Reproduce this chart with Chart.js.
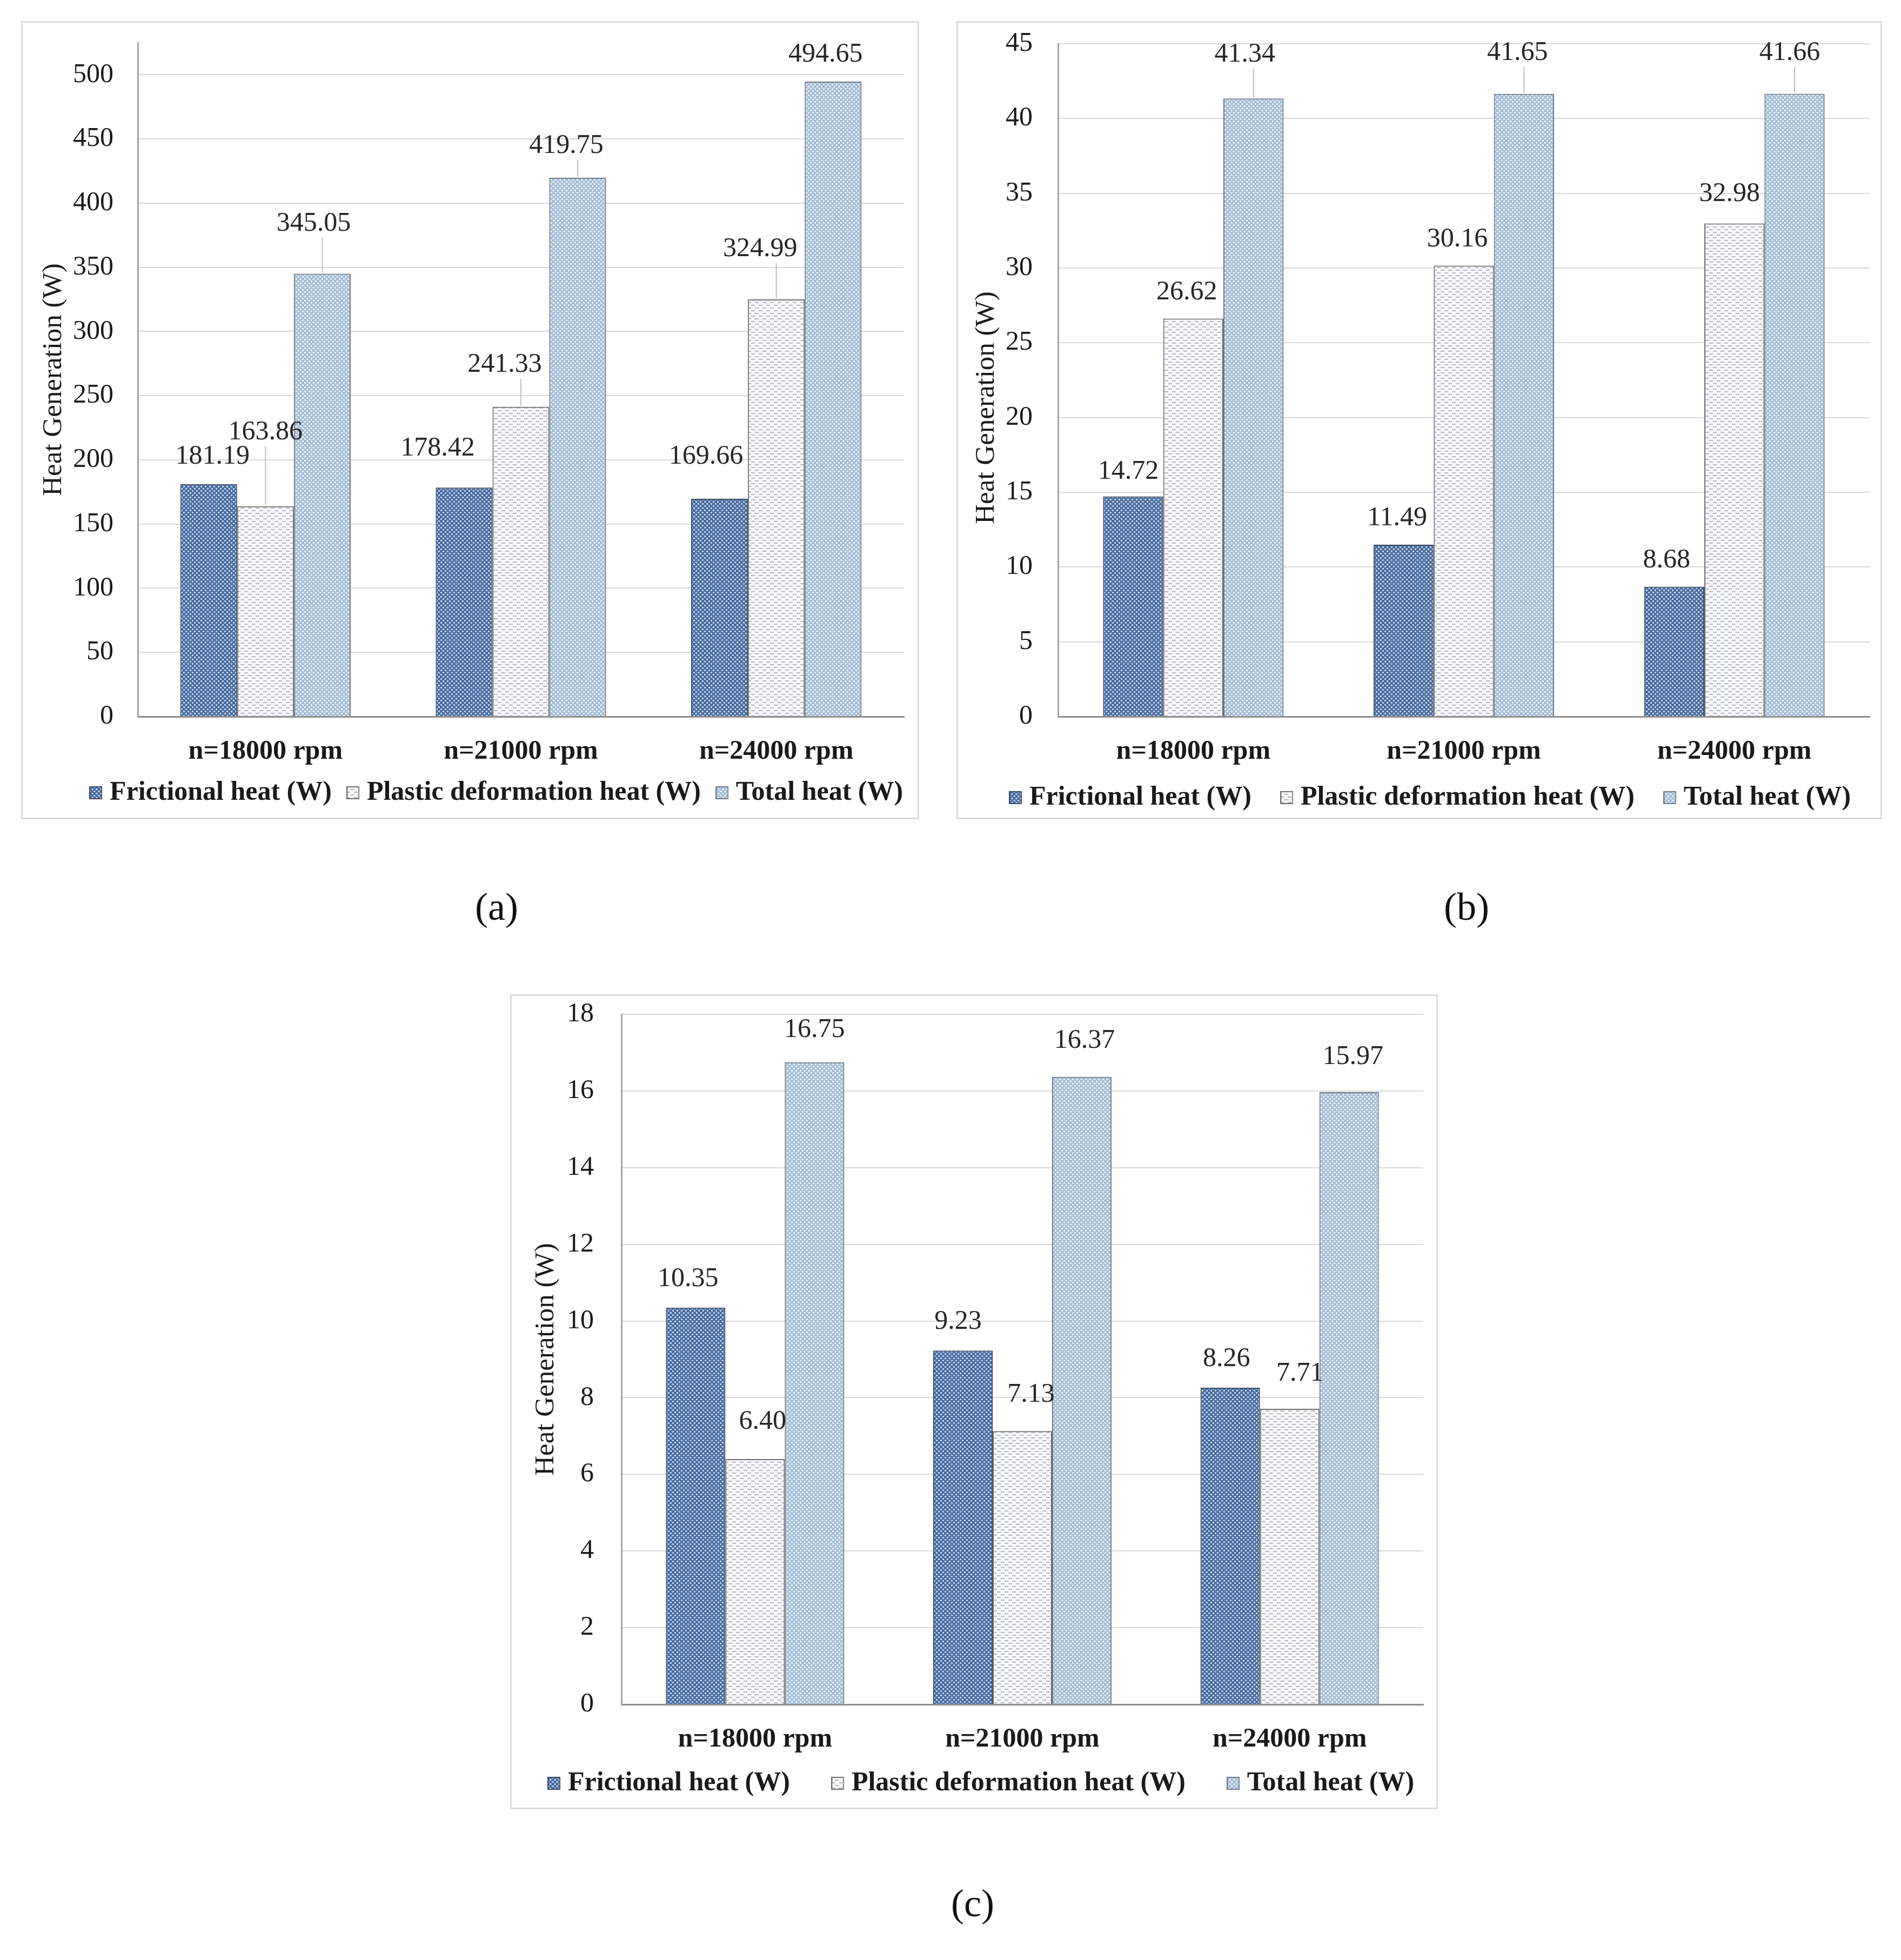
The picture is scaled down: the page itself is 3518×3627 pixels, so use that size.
<!DOCTYPE html>
<html>
<head>
<meta charset="utf-8">
<title>Heat generation</title>
<script src="https://cdn.jsdelivr.net/npm/chart.js@4.4.1/dist/chart.umd.min.js"></script>
<style>
  body { margin: 0; background: #fff; width: 3518px; height: 3627px; position: relative; overflow: hidden; font-family: "Liberation Serif", "Times New Roman", serif; }
  .panel { position: absolute; border: 3px solid #dcdcdc; box-sizing: border-box; }
  canvas { position: absolute; }
  .cap { position: absolute; font-size: 72px; color: #111; transform: translate(-50%, -50%); }
</style>
</head>
<body>
<div class="panel" style="left:39px;top:39px;width:1662px;height:1477px"></div>
<div class="panel" style="left:1770px;top:39px;width:1713px;height:1477px"></div>
<div class="panel" style="left:944px;top:1840px;width:1717px;height:1508px"></div>

<canvas id="chartA"></canvas>
<canvas id="chartB"></canvas>
<canvas id="chartC"></canvas>

<div class="cap" style="left:919px;top:1678px">(a)</div>
<div class="cap" style="left:2714px;top:1678px">(b)</div>
<div class="cap" style="left:1800px;top:3522px">(c)</div>

<script>
// data
const categories = ['n=18000 rpm', 'n=21000 rpm', 'n=24000 rpm'];
const seriesNames = ['Frictional heat (W)', 'Plastic deformation heat (W)', 'Total heat (W)'];

const frictionalA = [181.19, 178.42, 169.66];
const plasticA = [163.86, 241.33, 324.99];
const totalA = [345.05, 419.75, 494.65];

const frictionalB = [14.72, 11.49, 8.68];
const plasticB = [26.62, 30.16, 32.98];
const totalB = [41.34, 41.65, 41.66];

const frictionalC = [10.35, 9.23, 8.26];
const plasticC = [6.40, 7.13, 7.71];
const totalC = [16.75, 16.37, 15.97];

const ticksA = [0, 50, 100, 150, 200, 250, 300, 350, 400, 450, 500];
const ticksB = [0, 5, 10, 15, 20, 25, 30, 35, 40, 45];
const ticksC = [0, 2, 4, 6, 8, 10, 12, 14, 16, 18];
const yMaxA = 525;
const yMaxB = 45;
const yMaxC = 18;

// where each value label sits relative to its bar top [dx, dy], and which get a leader line
const labelPosA = {
  offsets: [[[7, 51], [-49, 72], [-25, 78]], [[0, 137], [-30, 78], [-30, 93]], [[-16, 93], [-21, 59], [-14, 50]]],
  leaders: [[0, 0, 0], [1, 1, 1], [1, 1, 0]]
};
const labelPosB = {
  offsets: [[[-9, 46], [-12, 49], [-14, 49]], [[-12, 49], [-12, 49], [-9, 55]], [[-16, 81], [-12, 76], [-9, 76]]],
  leaders: [[0, 0, 0], [0, 0, 0], [1, 1, 1]]
};
const labelPosC = {
  offsets: [[[-14, 53], [-9, 53], [-7, 53]], [[14, 69], [16, 67], [19, 65]], [[0, 60], [5, 67], [7, 65]]],
  leaders: [[0, 0, 0], [0, 0, 0], [0, 0, 0]]
};

Chart.defaults.font.family = '"Liberation Serif", "Times New Roman", serif';
Chart.defaults.color = '#1a1a1a';

const barBorders = ['#3a4a63', '#6e6e6e', '#6b7886'];

function tile(w, h, bg, fg, rects) {
  const c = document.createElement('canvas');
  c.width = w; c.height = h;
  const g = c.getContext('2d');
  g.fillStyle = bg;
  g.fillRect(0, 0, w, h);
  g.fillStyle = fg;
  rects.forEach(r => g.fillRect(r[0], r[1], r[2], r[3]));
  return c;
}

function patterns(ctx) {
  return [
    ctx.createPattern(tile(8, 8, '#4a6ca0', '#c2d8f2', [[0, 0, 3, 3], [4, 4, 3, 3]]), 'repeat'),
    ctx.createPattern(tile(14, 10, '#f6f7fa', '#b4b8c0', [[0, 0, 7, 2], [7, 5, 7, 2]]), 'repeat'),
    ctx.createPattern(tile(8, 8, '#a7bfd6', '#e8f1f9', [[0, 0, 3, 3], [4, 4, 3, 3]]), 'repeat')
  ];
}

// small legend squares, same fill as the bars
function swatches() {
  return [0, 1, 2].map(k => {
    const c = document.createElement('canvas');
    c.width = 24; c.height = 24;
    const g = c.getContext('2d');
    g.fillStyle = patterns(g)[k];
    g.fillRect(0, 0, 24, 24);
    g.strokeStyle = barBorders[k];
    g.lineWidth = 2;
    g.strokeRect(1, 1, 22, 22);
    return c;
  });
}

const valueLabels = {
  id: 'valueLabels',
  afterDatasetsDraw(chart, args, opts) {
    const ctx = chart.ctx;
    ctx.save();
    ctx.font = '50px "Liberation Serif"';
    ctx.textAlign = 'center';
    ctx.textBaseline = 'middle';
    chart.data.datasets.forEach((ds, di) => {
      chart.getDatasetMeta(di).data.forEach((bar, i) => {
        const off = opts.offsets[di][i];
        const lx = bar.x + off[0];
        const ly = bar.y - off[1];
        if (opts.leaders[di][i]) {
          ctx.strokeStyle = '#bfbfbf';
          ctx.lineWidth = 2;
          ctx.beginPath();
          ctx.moveTo(bar.x, ly + 26);
          ctx.lineTo(bar.x, bar.y - 2);
          ctx.stroke();
        }
        ctx.fillStyle = '#262626';
        ctx.fillText(ds.data[i].toFixed(2), lx, ly);
      });
    });
    ctx.restore();
  }
};

function makeChart(id, box, series, tickVals, yMax, labelPos) {
  const canvas = document.getElementById(id);
  canvas.width = box.width;
  canvas.height = box.height;
  canvas.style.left = box.left + 'px';
  canvas.style.top = box.top + 'px';
  const ctx = canvas.getContext('2d');
  const fills = patterns(ctx);
  const marks = swatches();

  return new Chart(ctx, {
    type: 'bar',
    data: {
      labels: categories,
      datasets: series.map((vals, k) => ({
        label: seriesNames[k],
        data: vals,
        backgroundColor: fills[k],
        borderColor: barBorders[k],
        borderWidth: 2,
        categoryPercentage: 0.667,
        barPercentage: 1.0
      }))
    },
    options: {
      responsive: false,
      devicePixelRatio: 1,
      animation: false,
      layout: { padding: box.pad },
      scales: {
        x: {
          afterFit: s => { s.height = box.xHeight; },
          grid: { display: false },
          border: { display: true, color: '#8c8c8c', width: 3 },
          // mirrored with a negative padding: same place below the axis, but not clipped to the short axis box
          ticks: { mirror: true, padding: -95, color: '#1a1a1a', font: { size: 50, weight: 'bold' } }
        },
        y: {
          min: 0,
          max: yMax,
          afterBuildTicks: axis => { axis.ticks = tickVals.map(v => ({ value: v })); },
          afterFit: s => { s.width = box.yWidth; s.paddingTop = 0; s.paddingBottom = 0; },
          grid: { color: '#d9d9d9', lineWidth: 2, drawTicks: false },
          border: { display: true, color: '#a6a6a6', width: 3 },
          ticks: { padding: box.tickPad, color: '#1a1a1a', font: { size: 50 } },
          title: {
            display: true,
            text: 'Heat Generation (W)' + ' '.repeat(box.titleSpaces),
            color: '#1a1a1a',
            font: { size: 51 },
            padding: { top: box.titlePad, bottom: 0 }
          }
        },
        // empty axis on the right, only there so the legend gets the reference's width
        y2: {
          position: 'right',
          min: 0,
          max: 1,
          afterFit: s => { s.width = box.y2Width; s.paddingTop = 0; s.paddingBottom = 0; },
          grid: { display: false, drawTicks: false },
          border: { display: false },
          ticks: { display: false }
        }
      },
      plugins: {
        tooltip: { enabled: false },
        legend: {
          position: 'bottom',
          labels: {
            usePointStyle: true,
            pointStyleWidth: 1,
            boxHeight: 24,
            padding: box.legendPad,
            color: '#1a1a1a',
            font: { size: 50, weight: 'bold' },
            generateLabels: chart => Chart.defaults.plugins.legend.labels.generateLabels(chart)
              .map((item, k) => Object.assign(item, { pointStyle: marks[k] }))
          }
        },
        valueLabels: labelPos
      }
    },
    plugins: [valueLabels]
  });
}

makeChart('chartA',
  { left: 39, top: 39, width: 1685, height: 1477, pad: { left: 85, right: 0, top: 40, bottom: 14 },
    yWidth: 131, y2Width: 51, xHeight: 77, legendPad: 39, titlePad: -54.6, titleSpaces: 0, tickPad: 45 },
  [frictionalA, plasticA, totalA], ticksA, yMaxA, labelPosA);

makeChart('chartB',
  { left: 1770, top: 39, width: 1733, height: 1477, pad: { left: 31, right: 0, top: 42, bottom: 5 },
    yWidth: 157, y2Width: 43, xHeight: 60, legendPad: 65, titlePad: -5.6, titleSpaces: 8, tickPad: 47 },
  [frictionalB, plasticB, totalB], ticksB, yMaxB, labelPosB);

makeChart('chartC',
  { left: 900, top: 1840, width: 1818, height: 1508, pad: { left: 24, right: 0, top: 37, bottom: 13 },
    yWidth: 226, y2Width: 84, xHeight: 33, legendPad: 88, titlePad: 56.4, titleSpaces: 0, tickPad: 51 },
  [frictionalC, plasticC, totalC], ticksC, yMaxC, labelPosC);
</script>
</body>
</html>
